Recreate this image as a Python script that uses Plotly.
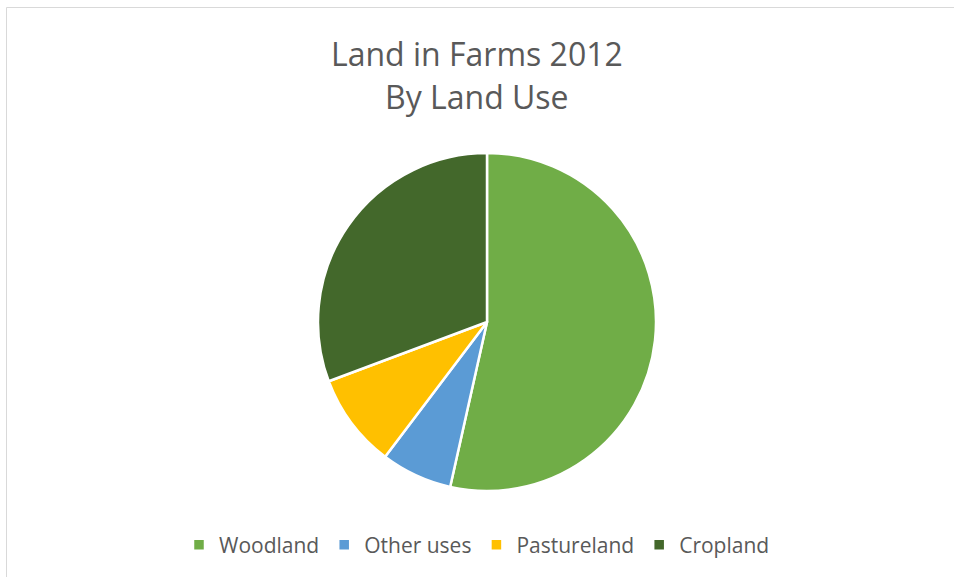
import plotly.graph_objects as go

categories = ["Woodland", "Other uses", "Pastureland", "Cropland"]
values = [53.5, 6.8, 9.0, 30.7]
colors = ["#70AD47", "#5B9BD5", "#FFC000", "#43682B"]
title_lines = ["Land in Farms 2012", "By Land Use"]

W, H = 954, 577
cx, cy, r = 487, 322, 169

fig = go.Figure(go.Pie(
    labels=categories,
    values=values,
    sort=False,
    direction="clockwise",
    rotation=0,
    textinfo="none",
    hoverinfo="label+percent",
    marker=dict(colors=colors, line=dict(color="white", width=2.5)),
    domain=dict(x=[(cx - r) / W, (cx + r) / W], y=[1 - (cy + r) / H, 1 - (cy - r) / H]),
))

title_y = [54, 96]
annotations = [
    dict(text=t, x=0.5, xref="paper", xanchor="center",
         y=1 - yy / H, yref="paper", yanchor="middle",
         showarrow=False, font=dict(size=32, color="#595959", family="Open Sans, sans-serif"))
    for t, yy in zip(title_lines, title_y)
]

fig.update_layout(
    width=W, height=H,
    margin=dict(l=0, r=0, t=0, b=0),
    paper_bgcolor="white",
    plot_bgcolor="white",
    font=dict(family="Open Sans, Noto Sans, sans-serif", color="#595959"),
    annotations=annotations,
    legend=dict(
        orientation="h",
        x=0.5, xanchor="center",
        y=1 - 545 / H, yanchor="middle",
        font=dict(size=21, color="#595959"),
        itemwidth=30,
    ),
    shapes=[dict(
        type="rect", xref="paper", yref="paper",
        x0=6.5 / W, y0=-0.05, x1=1.05, y1=1 - 7.5 / H,
        line=dict(color="#D9D9D9", width=1),
    )],
)

fig.write_html("out.html")
